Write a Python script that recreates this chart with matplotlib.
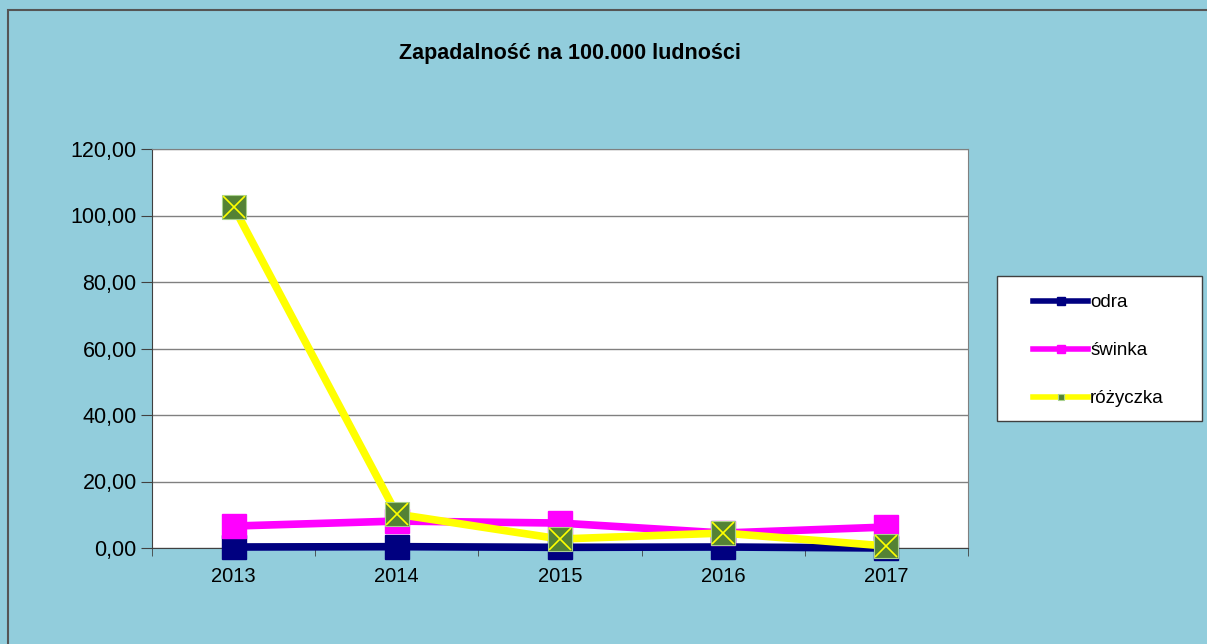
import numpy as np
import matplotlib.pyplot as plt
from matplotlib.patches import Rectangle
from matplotlib.ticker import FuncFormatter, FixedLocator

plt.rcParams['font.family'] = ['Liberation Sans', 'DejaVu Sans']

years = ['2013', '2014', '2015', '2016', '2017']
odra = [0.3, 0.4, 0.2, 0.3, 0.0]
swinka = [6.6, 8.1, 7.5, 4.5, 6.3]
rozyczka = [102.6, 10.2, 2.7, 4.5, 0.6]

bg = '#92CDDC'
fig = plt.figure(figsize=(12.07, 6.44), dpi=100, facecolor=bg)
fig.patches.append(Rectangle((8 / 1207, -0.01), 1.02, 1 - 10 / 644 + 0.01,
                             transform=fig.transFigure, fill=False,
                             edgecolor='#555555', linewidth=1.5))

ax = fig.add_axes([152 / 1207, 1 - 548 / 644, 816 / 1207, 399 / 644])
ax.set_facecolor('white')
x = np.arange(len(years))

ax.plot(x, odra, color='#000080', lw=5.5, marker='s', ms=17, mec='#000080',
        label='odra', zorder=3, clip_on=False)
ax.plot(x, swinka, color='#FF00FF', lw=5.5, marker='s', ms=17, mec='#FF00FF',
        label='świnka', zorder=4, clip_on=False)
ax.plot(x, rozyczka, color='#FFFF00', lw=5.5, marker='s', ms=17,
        mfc='#548235', mec='#A9D18E', mew=0.8, label='różyczka', zorder=5,
        clip_on=False)
ax.plot(x, rozyczka, ls='none', marker='x', ms=16, mec='#FFFF00', mew=1.2,
        zorder=6, clip_on=False)

ax.set_xlim(-0.5, 4.5)
ax.set_ylim(0, 120)
ax.set_yticks(np.arange(0, 121, 20))
ax.yaxis.set_major_formatter(FuncFormatter(lambda v, p: f'{v:.2f}'.replace('.', ',')))
ax.yaxis.grid(True, color='#808080', lw=1)
ax.set_axisbelow(True)
ax.set_xticks(x)
ax.set_xticklabels(years)
ax.xaxis.set_minor_locator(FixedLocator(np.arange(-0.5, 4.6, 1)))
ax.tick_params(axis='x', which='major', length=0, pad=14, labelsize=14.5)
ax.tick_params(axis='x', which='minor', length=6, color='#404040')
ax.tick_params(axis='y', length=8, color='#404040', labelsize=15.5, pad=3)
for s in ax.spines.values():
    s.set_color('#808080')
ax.spines['bottom'].set_color('#404040')
ax.spines['left'].set_color('#404040')

fig.text(570 / 1207, 1 - 53 / 644, 'Zapadalność na 100.000 ludności',
         ha='center', va='center', fontsize=15.5, fontweight='bold')

# legend box
fig.patches.append(Rectangle((997 / 1207, 1 - 421 / 644), 205 / 1207, 145 / 644,
                             transform=fig.transFigure, facecolor='white',
                             edgecolor='#404040', linewidth=1, zorder=1))
leg = fig.legend(loc='upper left', bbox_to_anchor=(1033 / 1207, 1 - 294 / 644),
                 frameon=False, fontsize=13.5, handlelength=2.95,
                 labelspacing=1.65, borderpad=0, handletextpad=0.1,
                 borderaxespad=0)
for h, ms in zip(leg.legend_handles, [6, 6, 5]):
    h.set_markersize(ms)
    h.set_linewidth(4)

fig.savefig('out.png', dpi=100, facecolor=bg)
